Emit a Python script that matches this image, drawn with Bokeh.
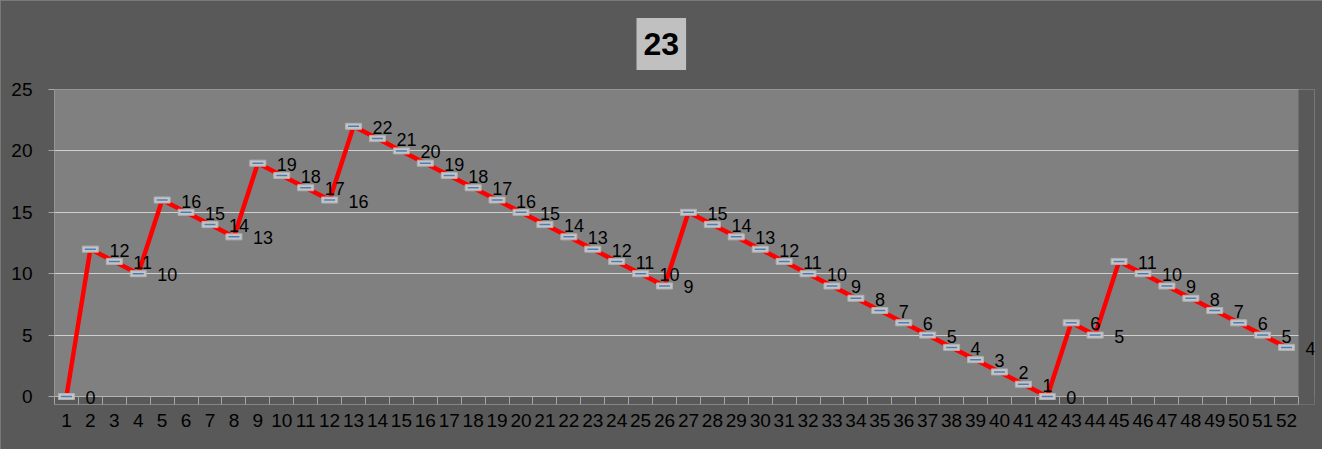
from bokeh.plotting import figure
from bokeh.models import FixedTicker, LabelSet, ColumnDataSource, Range1d, BoxAnnotation, Span
from bokeh.core.properties import value
from bokeh.embed import file_html
from bokeh.resources import INLINE

categories = list(range(1, 53))
values = [0, 12, 11, 10, 16, 15, 14, 13, 19, 18, 17, 16, 22, 21, 20, 19, 18, 17, 16, 15,
          14, 13, 12, 11, 10, 9, 15, 14, 13, 12, 11, 10, 9, 8, 7, 6, 5, 4, 3, 2,
          1, 0, 6, 5, 11, 10, 9, 8, 7, 6, 5, 4]
title_text = "23"
y_ticks = [0, 5, 10, 15, 20, 25]

FONT = "Liberation Sans"
BG = "#595959"
PLOT_BG = "#808080"

X_END = 53.169
Y_START = -0.651

src = ColumnDataSource(dict(x=categories, y=values, lbl=[str(v) for v in values]))

p = figure(width=1322, height=449, output_backend="svg", toolbar_location=None,
           x_range=Range1d(0.5, X_END), y_range=Range1d(Y_START, 25),
           min_border_left=54, min_border_right=8, min_border_top=89, min_border_bottom=45)
p.background_fill_color = PLOT_BG
p.border_fill_color = BG
p.outline_line_color = None
p.styles = {"outline": "2px solid #858585", "outline-offset": "-2px"}

# title
p.title.text = title_text
p.title.align = "left"
p.title.offset = 582
p.title.vertical_align = "top"
p.title.standoff = 35
p.title.text_font = FONT
p.title.text_font_size = "32px"
p.title.text_font_style = "bold"
p.title.text_color = "#000000"
p.title.background_fill_color = "#c0c0c0"
p.title.padding = dict(left=7, right=7, top=15, bottom=15)

# grid
p.xgrid.grid_line_color = None
p.ygrid.grid_line_color = "#d0d0d0"
p.ygrid.grid_line_width = 1
p.ygrid.ticker = FixedTicker(ticks=y_ticks[1:])

# strip below the zero line (so labels/markers at 0 are not cut)
p.add_layout(BoxAnnotation(top=0, fill_color=BG, fill_alpha=1, line_color=None, level="underlay"))
p.add_layout(Span(location=0, dimension="width", line_color="#b4b4b4", line_width=1, level="underlay"))
# strip right of the last category
p.quad(left=[52.5], right=[X_END + 1], bottom=[Y_START - 1], top=[26],
       fill_color=BG, line_color=None)

# x axis
p.xaxis.ticker = FixedTicker(ticks=categories, minor_ticks=[c - 0.5 for c in categories] + [52.5])
p.xaxis.major_tick_line_color = None
p.xaxis.major_tick_out = 0
p.xaxis.major_tick_in = 0
p.xaxis.minor_tick_line_color = "#a6a6a6"
p.xaxis.minor_tick_out = 0
p.xaxis.minor_tick_in = 8
p.xaxis.axis_line_color = None
p.xaxis.major_label_text_font = FONT
p.xaxis.major_label_text_font_size = "19px"
p.xaxis.major_label_text_color = "#000000"
p.xaxis.major_label_standoff = 9

# y axis
p.yaxis.ticker = FixedTicker(ticks=y_ticks)
p.yaxis.axis_line_color = None
p.yaxis.major_tick_line_color = "#a6a6a6"
p.yaxis.major_tick_out = 6
p.yaxis.major_tick_in = 0
p.yaxis.minor_tick_line_color = None
p.yaxis.major_label_text_font = FONT
p.yaxis.major_label_text_font_size = "19px"
p.yaxis.major_label_text_color = "#000000"
p.yaxis.major_label_standoff = 16

# line
p.line("x", "y", source=src, line_color="#ff0000", line_width=4.5)

# markers
p.rect("x", "y", source=src, width=16, height=6, width_units="screen", height_units="screen",
       fill_color="#c4c4c4", line_color="#b0b0b0", line_width=1)
p.scatter("x", "y", source=src, marker="dash", size=11, line_color="#4a7ebb", line_width=1.5)

# data labels
labels = LabelSet(x="x", y="y", text="lbl", source=src, x_offset=19, y_offset=-1,
                  text_align="left", text_baseline="middle",
                  text_font=value(FONT), text_font_size="18px", text_color="#000000")
p.add_layout(labels)

open("out.html", "w").write(file_html(p, INLINE))
